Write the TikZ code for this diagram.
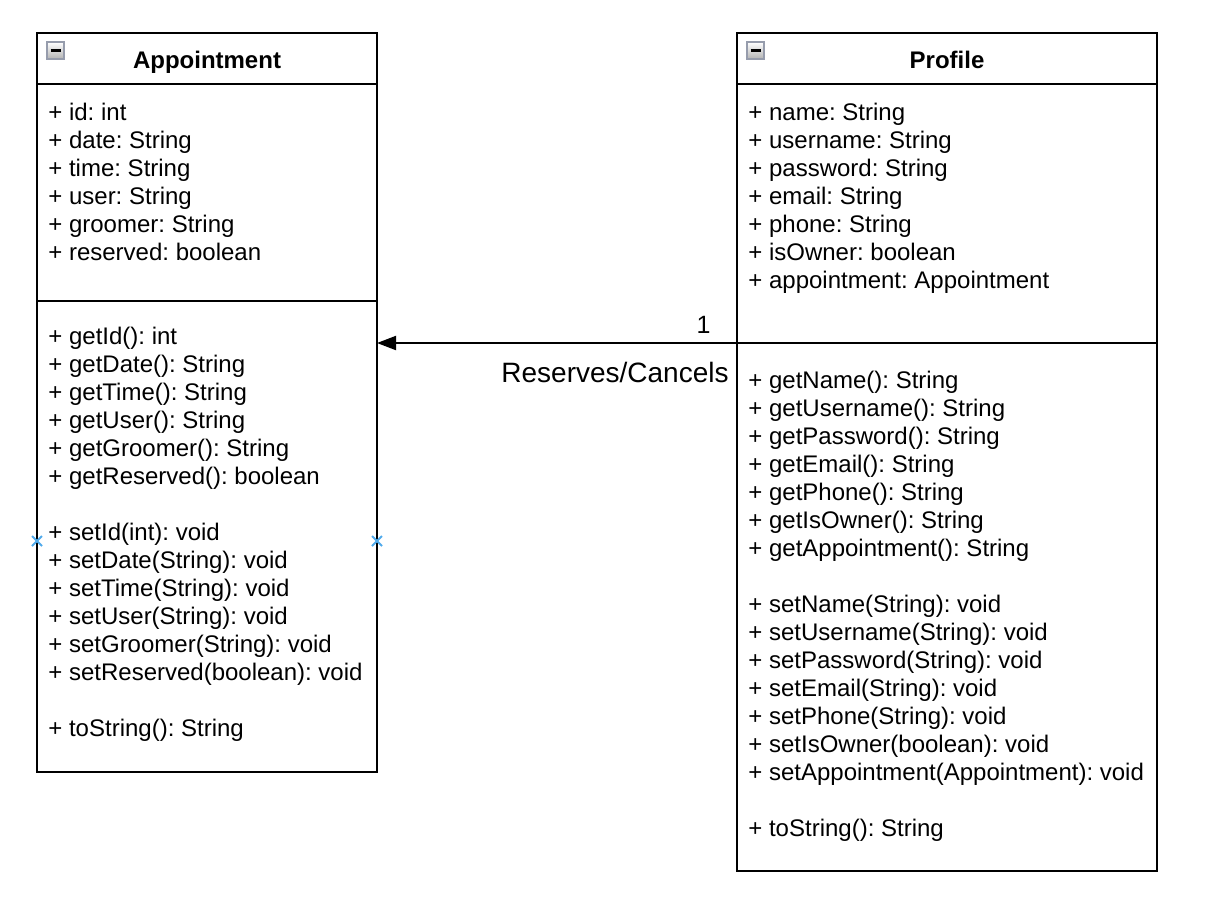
\documentclass[tikz,border=0pt]{standalone}
\usepackage{fontspec}
\setmainfont{Liberation Sans}
\usetikzlibrary{arrows.meta}
\definecolor{toggleedge}{RGB}{150,156,172}
\definecolor{hoverblue}{RGB}{80,170,235}
\frenchspacing
\tikzset{
	classbox/.style={draw, line width=1pt, anchor=north west, inner sep=0pt, outer sep=0pt},
	classtitle/.style={font=\fontsize{12}{14}\selectfont\bfseries, anchor=base},
	member/.style={font=\fontsize{12}{14}\selectfont, anchor=base west, inner sep=0pt},
	togglebox/.style={draw=toggleedge, line width=1pt, top color=white, bottom color=black!30},
	hovermark/.style={draw=hoverblue, line width=1pt},
	assoc/.style={line width=1pt, -{Triangle[length=9.5pt, width=7pt]}}
}
\begin{document}
\begin{tikzpicture}[x=0.5pt, y=-0.5pt]
			%%%%% START %%%%%
			\useasboundingbox (0, 0) rectangle (1210, 906);
			
			% Appointment
			\node[classbox, minimum width=170pt, minimum height=369.5pt] (appointment) at (37, 33) {};
			\draw[line width=1pt] (appointment.west |- 0, 84) -- (appointment.east |- 0, 84);
			\draw[line width=1pt] (appointment.west |- 0, 301) -- (appointment.east |- 0, 301);
			\draw[togglebox] (47, 42) rectangle (64, 59);
			\draw[line width=1.5pt] (50.5, 50.5) -- (60.5, 50.5);
			\node[classtitle] (apptitle) at (207, 68) {Appointment};
			
			\foreach \t [count=\i] in {+ id: int, + date: String, + time: String, + user: String, + groomer: String, + reserved: boolean}
				\node[member] (aattr\i) at (48, 92 + 28*\i) {\t};
			\foreach \t [count=\i] in {+ getId(): int, + getDate(): String, + getTime(): String, + getUser(): String, + getGroomer(): String, + getReserved(): boolean}
				\node[member] (aget\i) at (48, 316 + 28*\i) {\t};
			\foreach \t [count=\i] in {+ setId(int): void, + setDate(String): void, + setTime(String): void, + setUser(String): void, + setGroomer(String): void, + setReserved(boolean): void}
				\node[member] (aset\i) at (48, 512 + 28*\i) {\t};
			\node[member] (astr) at (48, 736) {+ toString(): String};
			
			% Profile
			\node[classbox, minimum width=210pt, minimum height=419pt] (profile) at (737, 33) {};
			\draw[line width=1pt] (profile.west |- 0, 84) -- (profile.east |- 0, 84);
			\draw[line width=1pt] (profile.west |- 0, 343) -- (profile.east |- 0, 343);
			\draw[togglebox] (747, 42) rectangle (764, 59);
			\draw[line width=1.5pt] (750.5, 50.5) -- (760.5, 50.5);
			\node[classtitle] (proftitle) at (947, 68) {Profile};
			
			\foreach \t [count=\i] in {+ name: String, + username: String, + password: String, + email: String, + phone: String, + isOwner: boolean, + appointment: Appointment}
				\node[member] (pattr\i) at (748, 92 + 28*\i) {\t};
			\foreach \t [count=\i] in {+ getName(): String, + getUsername(): String, + getPassword(): String, + getEmail(): String, + getPhone(): String, + getIsOwner(): String, + getAppointment(): String}
				\node[member] (pget\i) at (748, 360 + 28*\i) {\t};
			\foreach \t [count=\i] in {+ setName(String): void, + setUsername(String): void, + setPassword(String): void, + setEmail(String): void, + setPhone(String): void, + setIsOwner(boolean): void, + setAppointment(Appointment): void}
				\node[member] (pset\i) at (748, 584 + 28*\i) {\t};
			\node[member] (pstr) at (748, 836) {+ toString(): String};
			
			% association
			\draw[assoc] (profile.west |- 0, 343) -- (appointment.east |- 0, 343);
			\node[anchor=base east, inner sep=0pt, font=\fontsize{12.5}{14}\selectfont] (mult) at (711, 333) {1};
			\node[anchor=base east, inner sep=0pt, font=\fontsize{14}{16}\selectfont] (rolename) at (729, 382) {Reserves/Cancels};
			
			% hover marks
			\draw[hovermark] (32, 536) -- (42, 546) (32, 546) -- (42, 536);
			\draw[hovermark] (372, 536) -- (382, 546) (372, 546) -- (382, 536);
			%%%%% END %%%%%
		\end{tikzpicture}
\end{document}
